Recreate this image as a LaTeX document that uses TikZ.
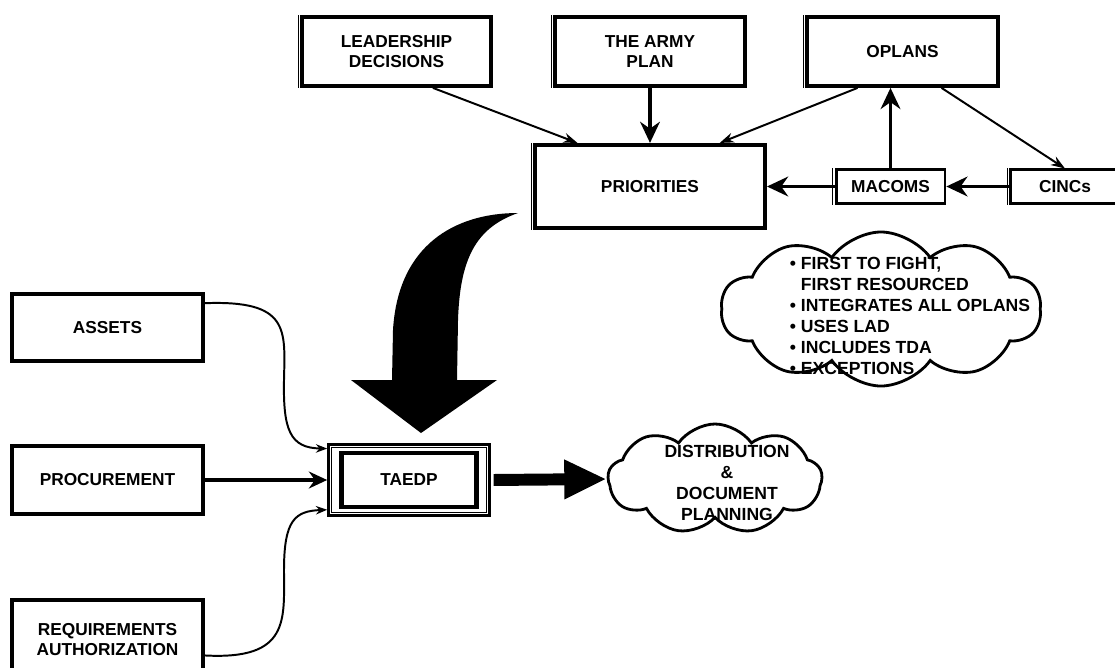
\documentclass[tikz,border=0pt]{standalone}
\usepackage{fontspec}
\setmainfont{Liberation Sans}
\usetikzlibrary{arrows.meta,shapes.symbols}

\tikzset{
  box/.style={draw, line width=2.8pt, align=center, inner sep=2pt,
    font=\fontsize{12.3}{14.2}\selectfont\bfseries},
  smallbox/.style={box, line width=2pt},
  bubble/.style={draw, cloud, cloud ignores aspect, cloud puff arc=110, line width=2pt},
  bubbletext/.style={font=\fontsize{12.5}{15}\selectfont\bfseries},
  thin arrow/.style={line width=1.4pt, -{Stealth[length=10pt,width=7pt]}},
  thick arrow/.style={line width=2.8pt, -{Stealth[length=15pt,width=14pt]}},
}

\begin{document}
\begin{tikzpicture}[x=0.025cm, y=-0.025cm]
\useasboundingbox (0,0) rectangle (1115,667);

% top row
\node[box, minimum width=4.72cm, minimum height=1.72cm] (lead) at (396.5,51.5) {LEADERSHIP\\DECISIONS};
\node[box, minimum width=4.75cm, minimum height=1.72cm] (plan) at (650,51.5) {THE ARMY\\PLAN};
\node[box, minimum width=4.78cm, minimum height=1.72cm] (oplans) at (902.5,51.5) {OPLANS};

\node[box, minimum width=5.75cm, minimum height=2.08cm] (prio) at (650,186.5) {PRIORITIES};
\node[smallbox, minimum width=2.72cm, minimum height=0.83cm] (macoms) at (890.5,186.5) {MACOMS};
\node[smallbox, minimum width=2.72cm, minimum height=0.83cm] (cincs) at (1065,186.5) {CINCs};

% second line on the left side
\foreach \n in {lead,plan,oplans,prio,macoms,cincs}
  \draw[line width=0.7pt] ([xshift=-1.3pt]\n.north west) -- ([xshift=-1.3pt]\n.south west);

\draw[thin arrow] (lead.-45) -- (prio.149);
\draw[thick arrow] (plan.south) -- (prio.north);
\draw[thin arrow] (oplans.219) -- (prio.32);
\draw[thin arrow] (oplans.-43) -- (cincs.north);
\draw[thick arrow] (macoms.north) -- (macoms.north |- oplans.south);
\draw[thick arrow] (macoms.west) -- (prio.east);
\draw[thick arrow] (cincs.west) -- (macoms.east);

% left column
\node[box, minimum width=4.78cm, minimum height=1.68cm] (assets) at (107.5,327.5) {ASSETS};
\node[box, minimum width=4.78cm, minimum height=1.7cm] (proc) at (107.5,480) {PROCUREMENT};
\node[box, minimum width=4.78cm, minimum height=2cm] (req) at (107.5,640) {REQUIREMENTS\\AUTHORIZATION};

% TAEDP
\node[draw, line width=2pt, minimum width=4.02cm, minimum height=1.78cm] (frame) at (409,480) {};
\draw[line width=0.8pt] ([shift={(3.2pt,-3.2pt)}]frame.north west) rectangle ([shift={(-3.2pt,3.2pt)}]frame.south east);
\node[box, line width=3.5pt, minimum width=3.375cm, minimum height=1.35cm] (taedp) at (409,480) {TAEDP};

\draw[line width=1.4pt, -{Stealth[length=8pt,width=6pt]}] (assets.14)
  .. controls (290,300) and (285,330) .. (284,380)
  .. controls (283,430) and (290,448) .. (frame.159);
\draw[line width=2.4pt, -{Stealth[length=13pt,width=12pt]}] (proc.east) -- (proc.east -| frame.west);
\draw[line width=1.4pt, -{Stealth[length=8pt,width=6pt]}] (req.351)
  .. controls (290,660) and (284,620) .. (284,570)
  .. controls (284,520) and (295,511) .. (frame.200);

% big curved arrow
\fill (518,213) .. controls (455,213) and (398,245) .. (393,330) -- (392,380)
  -- (351,380) -- (421,433) -- (497,380) -- (457,380) -- (458,320)
  .. controls (460,260) and (475,228) .. (518,213) -- cycle;

% clouds
\node[bubble, cloud puffs=10, minimum width=8cm, minimum height=3.85cm] (tipscloud) at (881,309) {};
\node[bubbletext, align=left] (tips) at (910,316)
  {\textbullet\ FIRST TO FIGHT,\\\phantom{\textbullet\ }FIRST RESOURCED\\
   \textbullet\ INTEGRATES ALL OPLANS\\\textbullet\ USES LAD\\
   \textbullet\ INCLUDES TDA\\\textbullet\ EXCEPTIONS};

\node[bubble, cloud puffs=9, minimum width=5.35cm, minimum height=2.75cm] (dist) at (715,479) {};
\node[bubbletext, align=center] (disttext) at (727,483) {DISTRIBUTION\\\&\\DOCUMENT\\PLANNING};

\draw[line width=8.5pt, -{Triangle[length=30pt,width=26pt]}, shorten <=2pt] (frame.east) -- (dist.west);
\end{tikzpicture}
\end{document}
